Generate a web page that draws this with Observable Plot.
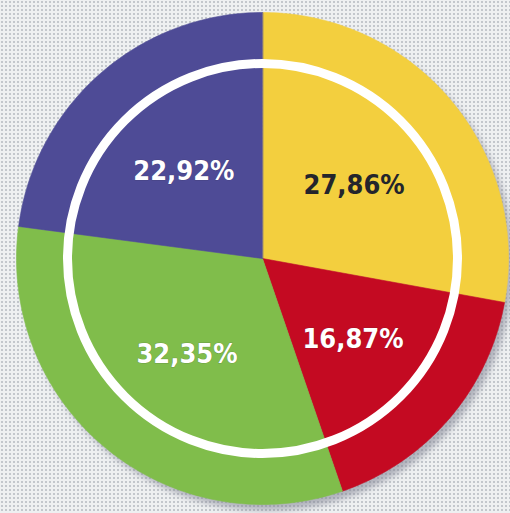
<!DOCTYPE html>
<html>
<head>
<meta charset="utf-8">
<script src="https://cdn.jsdelivr.net/npm/d3@7"></script>
<script src="https://cdn.jsdelivr.net/npm/@observablehq/plot@0.6"></script>
<style>
  html, body { margin: 0; padding: 0; background: #e4e6e8; }
  #chart svg {
    display: block;
    background-color: #eef0f1;
    background-image: radial-gradient(circle, #c3c7cc 1.1px, transparent 1.3px);
    background-size: 4px 4px;
  }
</style>
</head>
<body>
<div id="chart"></div>
<script>
// ---- data ----
const labels = ["27,86%", "16,87%", "32,35%", "22,92%"];
const shares = [27.86, 16.87, 32.35, 22.92];
const sliceColors = ["#f3cf3e", "#c40a22", "#80bd4b", "#4e4b96"];

// ---- layout ----
const W = 510, H = 513;
const cx = 262, cy = 258, R = 246;   // pixel centre & radius
const ringR = 195, labelR = 0.485;

const rows = labels.map((label, i) => ({label, share: shares[i]}));
const arcs = d3.pie().sort(null).value(d => d.share)(rows);

// polygon points for each slice (unit-radius space, y up)
const pts = [];
for (const a of arcs) {
  pts.push({label: a.data.label, x: 0, y: 0});
  const n = Math.max(2, Math.ceil((a.endAngle - a.startAngle) / (Math.PI / 180)));
  for (let k = 0; k <= n; k++) {
    const t = a.startAngle + (a.endAngle - a.startAngle) * k / n;
    pts.push({label: a.data.label, x: Math.sin(t), y: Math.cos(t)});
  }
}
const labelPts = arcs.map(a => {
  const m = (a.startAngle + a.endAngle) / 2;
  return {label: a.data.label, x: labelR * Math.sin(m), y: labelR * Math.cos(m)};
});
const colorOf = new Map(labels.map((l, i) => [l, sliceColors[i]]));
const textFill = d => d3.hsl(colorOf.get(d.label)).l > 0.55 ? "#23252c" : "#ffffff";

const chart = Plot.plot({
  width: W, height: H,
  margin: 0,
  x: {domain: [-cx / R, (W - cx) / R], range: [0, W], axis: null},
  y: {domain: [-(H - cy) / R, cy / R], range: [H, 0], axis: null},
  color: {domain: labels, range: sliceColors},
  marks: [
    // shadow
    Plot.dot([{x: 0, y: 0}], {x: "x", y: "y", r: R, fill: "#7d8090", fillOpacity: 0.55, stroke: "none", dx: 5, dy: 6}),
    // slices
    Plot.line(pts, {x: "x", y: "y", z: "label", fill: "label", stroke: "label", strokeWidth: 0.6, curve: "linear-closed"}),
    // white ring
    Plot.dot([{x: 0, y: 0}], {x: "x", y: "y", r: ringR, fill: "none", stroke: "#ffffff", strokeWidth: 9}),
    // labels
    Plot.text(labelPts, {
      x: "x", y: "y", text: "label",
      dy: 3,
      fill: textFill,
      fontSize: 27, fontWeight: 900,
      fontFamily: "'DejaVu Sans Condensed', 'DejaVu Sans', sans-serif",
      stroke: d => textFill(d) === "#ffffff" ? "#2a2a3a" : "none",
      strokeOpacity: 0.25, strokeWidth: 1
    })
  ]
});

// soften the shadow
const ns = "http://www.w3.org/2000/svg";
const defs = document.createElementNS(ns, "defs");
defs.innerHTML = '<filter id="soft" x="-20%" y="-20%" width="140%" height="140%"><feGaussianBlur stdDeviation="3"/></filter>';
chart.insertBefore(defs, chart.firstChild);
const shadow = chart.querySelector('g[aria-label="dot"]');
if (shadow) shadow.setAttribute("filter", "url(#soft)");

document.getElementById("chart").appendChild(chart);
</script>
</body>
</html>
